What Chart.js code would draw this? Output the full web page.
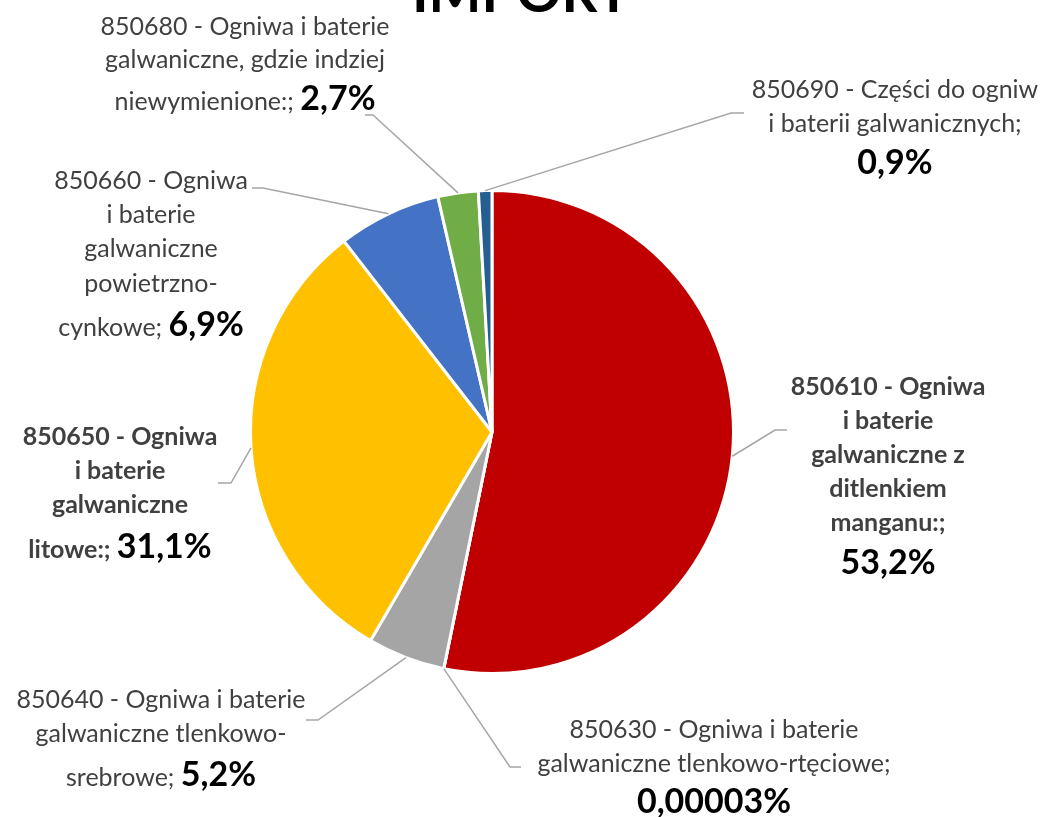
<!DOCTYPE html>
<html>
<head>
<meta charset="utf-8">
<script src="https://cdn.jsdelivr.net/npm/chart.js@4"></script>
<style>
html,body{margin:0;padding:0;background:#fff;}
canvas{display:block;}
</style>
</head>
<body>
<canvas id="c" width="1043" height="817"></canvas>
<script>
const title = 'IMPORT';
const categories = [
  '850610 - Ogniwa i baterie galwaniczne z ditlenkiem manganu:',
  '850630 - Ogniwa i baterie galwaniczne tlenkowo-rtęciowe',
  '850640 - Ogniwa i baterie galwaniczne tlenkowo-srebrowe',
  '850650 - Ogniwa i baterie galwaniczne litowe:',
  '850660 - Ogniwa i baterie galwaniczne powietrzno-cynkowe',
  '850680 - Ogniwa i baterie galwaniczne, gdzie indziej niewymienione:',
  '850690 - Części do ogniw i baterii galwanicznych'
];
const values = [53.2, 0.00003, 5.2, 31.1, 6.9, 2.7, 0.9];
const valueLabels = ['53,2%', '0,00003%', '5,2%', '31,1%', '6,9%', '2,7%', '0,9%'];
const colors = ['#C00000', '#7F7F7F', '#A5A5A5', '#FFC000', '#4472C4', '#70AD47', '#255E91'];
// label text broken in lines; last entry is the prefix put before the bold value
const labelLines = [
  ['850610 - Ogniwa', 'i baterie', 'galwaniczne z', 'ditlenkiem', 'manganu:;', ''],
  ['850630 - Ogniwa i baterie', 'galwaniczne tlenkowo-rtęciowe;', ''],
  ['850640 - Ogniwa i baterie', 'galwaniczne tlenkowo-', 'srebrowe; '],
  ['850650 - Ogniwa', 'i baterie', 'galwaniczne', 'litowe:; '],
  ['850660 - Ogniwa', 'i baterie', 'galwaniczne', 'powietrzno-', 'cynkowe; '],
  ['850680 - Ogniwa i baterie', 'galwaniczne, gdzie indziej', 'niewymienione:; '],
  ['850690 - Części do ogniw', 'i baterii galwanicznych;', '']
];
const boldCategory = [true, false, false, true, false, false, false];

// layout of labels (positions only)
const labelLayout = [
  {cx: 888, base: [395, 429, 463, 497, 531, 574], elbow: [775, 430], end: [787, 430]},
  {cx: 714, base: [738, 772, 813], elbow: [510, 767], end: [521, 767]},
  {cx: 161, base: [708, 742, 786], elbow: [318, 720], end: [306, 720]},
  {cx: 120, base: [445, 479, 513, 558], elbow: [231, 483], end: [218, 483]},
  {cx: 151, base: [189, 223, 257, 292, 336], elbow: [263, 188], end: [252, 188]},
  {cx: 245, base: [35, 68, 110], elbow: [373, 115], end: [365, 115]},
  {cx: 895, base: [98, 132, 174], elbow: [731, 113], end: [744, 113]}
];

const FONT = 'Lato, "Open Sans", sans-serif';
const REG = 25, VAL = 34;

const labelPlugin = {
  id: 'labels',
  afterDraw(chart) {
    const ctx = chart.ctx;
    const meta = chart.getDatasetMeta(0);
    ctx.save();
    // title
    ctx.fillStyle = '#000';
    ctx.font = 'bold 56px ' + FONT;
    ctx.textAlign = 'center';
    ctx.textBaseline = 'alphabetic';
    ctx.fillText(title, 521, 12);

    meta.data.forEach((arc, i) => {
      const p = arc.getProps(['x', 'y', 'startAngle', 'endAngle', 'outerRadius'], true);
      const a = (p.startAngle + p.endAngle) / 2;
      const sx = p.x + Math.cos(a) * p.outerRadius;
      const sy = p.y + Math.sin(a) * p.outerRadius;
      const L = labelLayout[i];
      ctx.strokeStyle = '#A6A6A6';
      ctx.lineWidth = 1.5;
      ctx.beginPath();
      ctx.moveTo(sx, sy);
      ctx.lineTo(L.elbow[0], L.elbow[1]);
      ctx.lineTo(L.end[0], L.end[1]);
      ctx.stroke();

      const lines = labelLines[i];
      const catFont = (boldCategory[i] ? 'bold ' : '') + REG + 'px ' + FONT;
      const valFont = 'bold ' + VAL + 'px ' + FONT;
      ctx.textBaseline = 'alphabetic';
      for (let k = 0; k < lines.length - 1; k++) {
        ctx.font = catFont;
        ctx.fillStyle = '#404040';
        ctx.textAlign = 'center';
        ctx.fillText(lines[k], L.cx, L.base[k]);
      }
      const last = lines[lines.length - 1];
      ctx.font = catFont;
      const w1 = ctx.measureText(last).width;
      ctx.font = valFont;
      const w2 = ctx.measureText(valueLabels[i]).width;
      const x0 = L.cx - (w1 + w2) / 2;
      const yb = L.base[lines.length - 1];
      ctx.textAlign = 'left';
      ctx.font = catFont;
      ctx.fillStyle = '#404040';
      ctx.fillText(last, x0, yb);
      ctx.font = valFont;
      ctx.fillStyle = '#000';
      ctx.fillText(valueLabels[i], x0 + w1, yb);
    });
    ctx.restore();
  }
};

new Chart(document.getElementById('c'), {
  type: 'pie',
  data: {
    labels: categories,
    datasets: [{
      data: values,
      backgroundColor: colors,
      borderColor: '#FFFFFF',
      borderWidth: 3
    }]
  },
  options: {
    responsive: false,
    animation: false,
    layout: {padding: {left: 249, right: 308, top: 189, bottom: 142}},
    plugins: {legend: {display: false}, tooltip: {enabled: false}, title: {display: false}}
  },
  plugins: [labelPlugin]
});
</script>
</body>
</html>
